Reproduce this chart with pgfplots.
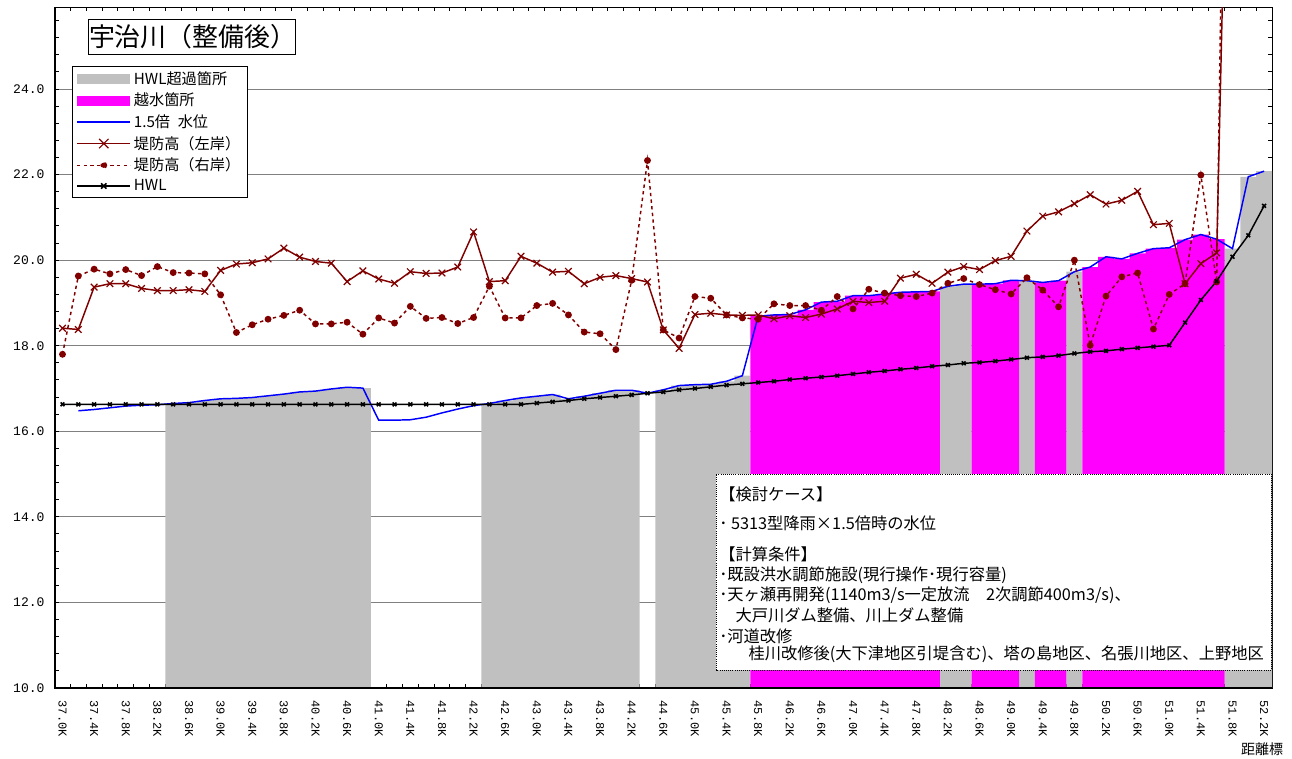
\documentclass[border=0pt]{standalone}
\usepackage{fontspec}
\setmainfont{Noto Sans CJK JP}
\setmonofont{Liberation Mono}
\usepackage{pgfplots}
\usepackage{pgfplotstable}
\pgfplotsset{compat=1.18}

\definecolor{hwlgray}{RGB}{192,192,192}
\definecolor{overflow}{RGB}{255,0,255}
\definecolor{levee}{RGB}{128,0,0}
\definecolor{wlblue}{RGB}{0,0,255}

% km: distance, L/R: levee crown left/right, H: HWL, B: 1.5x water level,
% G: bar where HWL exceeded, M: bar where overtopping
\pgfplotstableread{
km   L     R     H     B     G     M
37.0 18.41 17.80 16.63 nan   nan   nan
37.2 18.38 19.63 16.63 16.48 nan   nan
37.4 19.37 19.79 16.63 16.51 nan   nan
37.6 19.45 19.68 16.63 16.55 nan   nan
37.8 19.45 19.78 16.63 16.59 nan   nan
38.0 19.34 19.64 16.63 16.61 nan   nan
38.2 19.29 19.85 16.63 16.62 nan   nan
38.4 19.29 19.71 16.63 16.65 16.65 nan
38.6 19.31 19.70 16.63 16.67 16.67 nan
38.8 19.27 19.68 16.63 16.72 16.72 nan
39.0 19.76 19.19 16.63 16.76 16.76 nan
39.2 19.91 18.31 16.63 16.77 16.77 nan
39.4 19.94 18.49 16.63 16.79 16.79 nan
39.6 20.03 18.62 16.63 16.83 16.83 nan
39.8 20.28 18.71 16.63 16.87 16.87 nan
40.0 20.07 18.83 16.63 16.92 16.92 nan
40.2 19.97 18.51 16.63 16.94 16.94 nan
40.4 19.93 18.51 16.63 16.99 16.99 nan
40.6 19.50 18.55 16.63 17.03 17.03 nan
40.8 19.75 18.27 16.63 17.01 17.01 nan
41.0 19.56 18.65 16.63 16.26 nan   nan
41.2 19.46 18.53 16.63 16.26 nan   nan
41.4 19.73 18.92 16.63 16.27 nan   nan
41.6 19.69 18.64 16.63 16.33 nan   nan
41.8 19.70 18.66 16.63 16.43 nan   nan
42.0 19.84 18.52 16.63 16.52 nan   nan
42.2 20.66 18.66 16.63 16.60 nan   nan
42.4 19.50 19.39 16.63 16.65 16.65 nan
42.6 19.52 18.65 16.63 16.72 16.72 nan
42.8 20.09 18.65 16.63 16.78 16.78 nan
43.0 19.93 18.94 16.66 16.82 16.82 nan
43.2 19.72 18.99 16.69 16.86 16.86 nan
43.4 19.74 18.72 16.72 16.76 16.76 nan
43.6 19.45 18.32 16.76 16.82 16.82 nan
43.8 19.60 18.28 16.79 16.89 16.89 nan
44.0 19.64 17.91 16.82 16.96 16.96 nan
44.2 19.57 19.53 16.85 16.96 16.96 nan
44.4 19.49 22.33 16.89 16.89 nan   nan
44.6 18.37 18.37 16.92 16.97 16.97 nan
44.8 17.94 18.18 16.97 17.07 17.07 nan
45.0 18.73 19.15 17.00 17.09 17.09 nan
45.2 18.76 19.11 17.04 17.10 17.10 nan
45.4 18.72 18.72 17.08 17.17 17.17 nan
45.6 18.71 18.65 17.11 17.30 17.30 nan
45.8 18.72 18.62 17.14 18.69 nan   18.69
46.0 18.63 18.98 17.17 18.72 nan   18.72
46.2 18.70 18.94 17.21 18.73 nan   18.73
46.4 18.66 18.94 17.24 18.84 nan   18.84
46.6 18.74 18.83 17.27 19.02 nan   19.02
46.8 18.86 19.15 17.30 19.04 nan   19.04
47.0 19.04 18.86 17.34 19.17 nan   19.17
47.2 19.01 19.32 17.38 19.17 nan   19.17
47.4 19.04 19.23 17.41 19.21 nan   19.21
47.6 19.58 19.17 17.45 19.25 nan   19.25
47.8 19.67 19.15 17.48 19.26 nan   19.26
48.0 19.46 19.23 17.52 19.27 nan   19.27
48.2 19.72 19.46 17.55 19.39 19.39 nan
48.4 19.85 19.57 17.59 19.44 19.44 nan
48.6 19.78 19.43 17.61 19.44 nan   19.44
48.8 19.99 19.31 17.64 19.45 nan   19.45
49.0 20.09 19.21 17.68 19.53 nan   19.53
49.2 20.68 19.59 17.72 19.52 19.52 nan
49.4 21.03 19.30 17.74 19.48 nan   19.48
49.6 21.13 18.91 17.77 19.52 nan   19.52
49.8 21.32 20.00 17.82 19.73 19.73 nan
50.0 21.53 18.01 17.86 19.84 nan   19.84
50.2 21.31 19.16 17.88 20.08 nan   20.08
50.4 21.40 19.61 17.92 20.03 nan   20.03
50.6 21.61 19.70 17.95 20.16 nan   20.16
50.8 20.83 18.39 17.98 20.27 nan   20.27
51.0 20.86 19.20 18.01 20.29 nan   20.29
51.2 19.45 19.45 18.54 20.48 nan   20.48
51.4 19.92 21.99 19.07 20.60 nan   20.60
51.6 20.17 19.49 19.51 20.49 nan   20.49
51.8 36.40 45.00 20.08 20.27 20.27 nan
52.0 nan   nan   20.58 21.95 21.95 nan
52.2 nan   nan   21.27 22.08 22.08 nan
}\datatable

\begin{document}
\begin{tikzpicture}
\begin{axis}[
    at={(0pt,0pt)}, anchor=south west,
    scale only axis,
    width=913.05pt, height=510.5pt,
    xmin=36.9, xmax=52.3,
    ymin=10, ymax=25.91,
    axis line style={line width=0.75pt},
    tick align=inside,
    major tick length=0pt,
    minor tick length=3pt,
    tick style={black, line width=0.75pt},
    xtick={37.0,37.4,...,52.3},
    minor xtick={37.1,37.3,...,52.2},
    ytick={10,12,...,24},
    minor ytick={10,10.4,...,25.8},
    ymajorgrids,
    major grid style={black!50, line width=0.75pt},
    /pgf/number format/assume math mode=true,
    xticklabel={\pgfmathprintnumber[fixed,fixed zerofill,precision=1]{\tick}K},
    yticklabel={\pgfmathprintnumber[fixed,fixed zerofill,precision=1]{\tick}},
    xticklabel style={font=\ttfamily\fontsize{9}{10}\selectfont,
        rotate=-90, anchor=west, xshift=6pt},
    yticklabel style={font=\ttfamily\fontsize{9.8}{11}\selectfont, xshift=-4pt},
    legend style={at={(0.0143,0.914)}, anchor=north west,
        draw=black, line width=0.6pt, fill=white,
        font=\fontsize{11.4}{13}\selectfont,
        row sep=1pt, inner xsep=3pt, inner ysep=2pt},
    legend cell align=left,
]

\addplot[ybar, bar width=0.2, bar shift=0pt, fill=hwlgray, draw=none,
    legend image code/.code={\fill[hwlgray] (0pt,-3.75pt) rectangle (40pt,3.75pt);}]
    table[x=km, y=G] {\datatable};
\addplot[ybar, bar width=0.2, bar shift=0pt, fill=overflow, draw=none,
    legend image code/.code={\fill[overflow] (0pt,-3.75pt) rectangle (40pt,3.75pt);}]
    table[x=km, y=M] {\datatable};
\addplot[color=wlblue, line width=1.1pt, mark=none,
    legend image code/.code={\draw[wlblue, line width=1.1pt] (0pt,0pt) -- (40pt,0pt);}]
    table[x=km, y=B] {\datatable};
\addplot[levee, line width=1.1pt, mark=x, mark size=3.5pt,
    mark options={line width=0.9pt},
    legend image code/.code={\draw[levee, line width=1.1pt] (0pt,0pt) -- (40pt,0pt);
        \draw[levee, line width=0.9pt] (16.5pt,-3.5pt) -- (23.5pt,3.5pt)
            (16.5pt,3.5pt) -- (23.5pt,-3.5pt);}]
    table[x=km, y=L] {\datatable};
\addplot[levee, line width=1.1pt, dash pattern=on 2.5pt off 2.5pt,
    mark=*, mark size=2pt, mark options={solid},
    legend image code/.code={\draw[levee, line width=1.1pt, dash pattern=on 2.5pt off 2.5pt] (0pt,0pt) -- (40pt,0pt);
        \fill[levee] (20pt,0pt) circle (2pt);}]
    table[x=km, y=R] {\datatable};
\addplot[black, line width=1.1pt, mark=x, mark size=2pt,
    mark options={line width=1.2pt},
    legend image code/.code={\draw[black, line width=1.1pt] (0pt,0pt) -- (40pt,0pt);
        \draw[black, line width=1.2pt] (18pt,-2pt) -- (22pt,2pt)
            (18pt,2pt) -- (22pt,-2pt);}]
    table[x=km, y=H] {\datatable};

\legend{HWL超過箇所, 越水箇所, 1.5倍\hspace{0.5em}水位, 堤防高（左岸）, 堤防高（右岸）, HWL}
\end{axis}

% heavier left and bottom axis lines
\draw[line width=1.5pt] (0pt,510.5pt) -- (0pt,0pt) -- (913.05pt,0pt);

% title
\node[draw, line width=0.75pt, fill=white, minimum width=155.25pt,
    minimum height=26.25pt, inner sep=0pt, font=\fontsize{19.4}{21}\selectfont]
    at (103.4pt,488.6pt) {宇治川（整備後）};

% calculation conditions box
\draw[densely dotted, line width=0.6pt, fill=white] (496.05pt,13.5pt) rectangle (912.3pt,160.5pt);
\begin{scope}[every node/.style={anchor=west, inner sep=0pt, font=\fontsize{12.2}{14}\selectfont}]
\node at (498.3pt,145.5pt) {【検討ケース】};
\node at (498.3pt,123.75pt) {･ 5313型降雨×1.5倍時の水位};
\node at (498.3pt,100.5pt) {【計算条件】};
\node at (498.3pt,84.75pt) {･既設洪水調節施設(現行操作･現行容量)};
\node at (498.3pt,69.75pt) {･天ヶ瀬再開発(1140m3/s一定放流\hspace{1em}2次調節400m3/s)、};
\node at (498.3pt,54.75pt) {\hspace{1em}大戸川ダム整備、川上ダム整備};
\node at (498.3pt,39pt) {･河道改修};
\node at (498.3pt,25.5pt) {\hspace{1.8em}桂川改修後(大下津地区引堤含む)、塔の島地区、名張川地区、上野地区};
\end{scope}

\node[font=\fontsize{10.5}{12}\selectfont] at (905.55pt,-45.75pt) {距離標};

\pgfresetboundingbox
\useasboundingbox (-40.95pt,-52.5pt) rectangle (928.05pt,516pt);
\end{tikzpicture}
\end{document}
